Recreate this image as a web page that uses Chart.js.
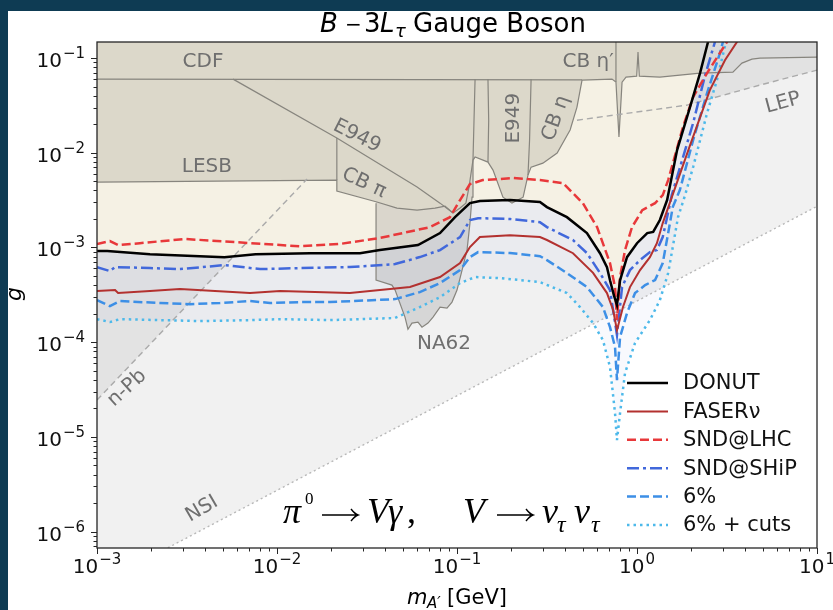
<!DOCTYPE html>
<html>
<head>
<meta charset="utf-8">
<title>B - 3L_tau Gauge Boson</title>
<script src="https://cdn.jsdelivr.net/npm/chart.js@4.4.1/dist/chart.umd.min.js"></script>
<style>
  html, body { margin: 0; padding: 0; background: #0e3b53; overflow: hidden; }
  canvas { display: block; }
</style>
</head>
<body>
<canvas id="chart" width="833" height="610"></canvas>
<script>
// B - 3L_tau gauge boson: reach in (m_A' [GeV], g)

// axes: decades that carry a 10^n label
const massDecades = [-3, -2, -1, 0, 1];
const couplingDecades = [-7, -6, -5, -4, -3, -2, -1];
const massRange = [1e-3, 10];
const couplingRange = [6.7e-7, 0.148];

// projected sensitivities
const donutMass = [1e-3, 1.14e-3, 1.97e-3, 5.1e-3, 7.6e-3, 1.53e-2, 2.89e-2, 3.73e-2, 6.07e-2, 8.05e-2, 9.75e-2, 0.118, 0.134, 0.197, 0.289, 0.316, 0.408, 0.527, 0.623, 0.681, 0.708, 0.745, 0.774, 0.805, 0.88, 1.0, 1.14, 1.23, 1.34, 1.47, 1.67, 1.97, 2.24, 2.48, 2.58];
const donutG = [9.2e-4, 9.2e-4, 8.5e-4, 7.9e-4, 8.5e-4, 8.7e-4, 8.7e-4, 9.4e-4, 1.06e-3, 1.42e-3, 2.09e-3, 2.94e-3, 3.09e-3, 3.17e-3, 3.02e-3, 2.67e-3, 2.09e-3, 1.42e-3, 8.7e-4, 6.2e-4, 4.5e-4, 3.1e-4, 2.46e-4, 4.5e-4, 7.9e-4, 1.11e-3, 1.42e-3, 1.46e-3, 1.95e-3, 3.17e-3, 1.07e-2, 3.04e-2, 6.95e-2, 0.148, 0.2];

const faserMass = [1e-3, 1.26e-3, 1.31e-3, 1.97e-3, 2.89e-3, 7.08e-3, 1.04e-2, 2.54e-2, 4.83e-2, 5.48e-2, 8.05e-2, 0.104, 0.118, 0.134, 0.197, 0.289, 0.316, 0.441, 0.57, 0.681, 0.736, 0.774, 0.836, 0.914, 1.04, 1.18, 1.29, 1.39, 1.52, 1.97, 2.54, 3.08, 3.59, 3.83];
const faserG = [3.47e-4, 3.55e-4, 3.3e-4, 3.47e-4, 3.64e-4, 3.3e-4, 3.47e-4, 3.3e-4, 3.73e-4, 3.82e-4, 4.87e-4, 6.84e-4, 1.01e-3, 1.29e-3, 1.35e-3, 1.29e-3, 1.2e-3, 8.7e-4, 5.4e-4, 3.3e-4, 2.2e-4, 1.34e-4, 2.35e-4, 3.82e-4, 5.77e-4, 7.9e-4, 1.11e-3, 1.81e-3, 2.94e-3, 1.2e-2, 4.6e-2, 9.5e-2, 0.148, 0.2];

const sndLhcMass = [1e-3, 1.18e-3, 1.31e-3, 1.73e-3, 3.08e-3, 5.84e-3, 1.34e-2, 2.24e-2, 3.73e-2, 7.08e-2, 9.14e-2, 0.104, 0.118, 0.139, 0.205, 0.289, 0.388, 0.5, 0.6, 0.708, 0.755, 0.774, 0.805, 0.858, 0.938, 1.07, 1.26, 1.39, 1.49, 1.8, 2.05, 2.45, 3.16, 3.37];
const sndLhcG = [1.09e-3, 1.17e-3, 1.06e-3, 1.11e-3, 1.23e-3, 1.14e-3, 1.03e-3, 1.09e-3, 1.26e-3, 1.64e-3, 2.09e-3, 3.17e-3, 4.67e-3, 5.15e-3, 5.41e-3, 5.15e-3, 4.79e-3, 2.94e-3, 1.64e-3, 6.84e-4, 3.82e-4, 1.71e-4, 4.87e-4, 9.39e-4, 1.64e-3, 2.48e-3, 2.94e-3, 3.57e-3, 5.15e-3, 1.87e-2, 3.87e-2, 6.95e-2, 0.148, 0.2];

const sndShipMass = [1e-3, 1.18e-3, 1.26e-3, 1.97e-3, 2.89e-3, 5.14e-3, 8.05e-3, 1.34e-2, 2.54e-2, 4.53e-2, 6.22e-2, 8.05e-2, 0.104, 0.118, 0.131, 0.197, 0.289, 0.316, 0.441, 0.527, 0.623, 0.708, 0.774, 0.826, 0.914, 1.04, 1.18, 1.29, 1.39, 1.47, 1.56, 2.05, 2.39, 2.71, 2.82];
const sndShipG = [6.21e-4, 5.63e-4, 6.21e-4, 6.06e-4, 5.91e-4, 6.52e-4, 5.91e-4, 6.06e-4, 6.21e-4, 6.68e-4, 7.92e-4, 9.39e-4, 1.29e-3, 1.95e-3, 2.04e-3, 2.0e-3, 1.85e-3, 1.64e-3, 1.2e-3, 8.73e-4, 5.37e-4, 3.55e-4, 1.19e-4, 3.82e-4, 5.77e-4, 7.36e-4, 8.94e-4, 9.39e-4, 1.29e-3, 2.09e-3, 3.57e-3, 2.06e-2, 6.6e-2, 0.148, 0.2];

const sixMass = [1e-3, 1.18e-3, 1.34e-3, 2.24e-3, 3.29e-3, 4.82e-3, 7.08e-3, 9.14e-3, 1.34e-2, 1.97e-2, 4.53e-2, 6.22e-2, 8.05e-2, 0.104, 0.118, 0.131, 0.197, 0.289, 0.316, 0.408, 0.527, 0.647, 0.708, 0.755, 0.774, 0.805, 0.88, 0.975, 1.11, 1.26, 1.39, 1.49, 1.58, 1.73, 2.05, 2.45, 2.89, 3.0, 3.12];
const sixG = [2.78e-4, 2.4e-4, 2.72e-4, 2.59e-4, 2.52e-4, 2.59e-4, 2.72e-4, 2.59e-4, 2.65e-4, 2.65e-4, 2.85e-4, 3.38e-4, 4.21e-4, 5.77e-4, 7.92e-4, 8.94e-4, 8.73e-4, 8.1e-4, 7.36e-4, 5.37e-4, 3.82e-4, 2.35e-4, 1.44e-4, 8.88e-5, 3.98e-5, 1.13e-4, 2.03e-4, 3.3e-4, 4.01e-4, 4.53e-4, 6.84e-4, 1.42e-3, 2.67e-3, 4.04e-3, 1.36e-2, 4.27e-2, 0.113, 0.148, 0.2];

const cutsMass = [1e-3, 1.18e-3, 1.34e-3, 3.74e-3, 7.08e-3, 1.04e-2, 1.97e-2, 4.53e-2, 6.22e-2, 8.05e-2, 0.104, 0.126, 0.173, 0.289, 0.408, 0.482, 0.57, 0.647, 0.708, 0.755, 0.774, 0.805, 0.858, 0.975, 1.18, 1.34, 1.49, 1.58, 1.69, 1.85, 2.05, 2.45, 2.78, 3.12, 3.24];
const cutsG = [1.75e-4, 1.63e-4, 1.75e-4, 1.67e-4, 1.71e-4, 1.75e-4, 1.71e-4, 1.8e-4, 2.35e-4, 2.99e-4, 4.21e-4, 4.87e-4, 4.75e-4, 4.31e-4, 3.3e-4, 2.35e-4, 1.59e-4, 1.05e-4, 5.46e-5, 1.78e-5, 9.24e-6, 1.78e-5, 4.72e-5, 9.79e-5, 1.71e-4, 2.78e-4, 5.37e-4, 1.01e-3, 2.09e-3, 3.57e-3, 7.06e-3, 2.62e-2, 5.86e-2, 0.148, 0.2];

// existing bounds: lower edge of CDF / LESB / E949 / CB regions
const boundsMass = [1e-3, 2.15e-2, 2.15e-2, 3.59e-2, 4.64e-2, 6.0e-2, 7.55e-2, 8.58e-2, 9.5e-2, 0.104, 0.112, 0.1166, 0.1227, 0.126, 0.1486, 0.1585, 0.18, 0.202, 0.233, 0.248, 0.258, 0.3, 0.36, 0.425, 0.464, 0.495, 0.726, 0.764, 0.794, 0.826, 0.869, 0.996, 1.013, 1.03, 1.34, 1.73, 2.24];
const boundsG = [4.91e-3, 5.15e-3, 3.94e-3, 3.02e-3, 2.61e-3, 2.48e-3, 2.61e-3, 2.74e-3, 2.31e-3, 2.61e-3, 2.94e-3, 4.35e-3, 8.38e-3, 9.02e-3, 7.98e-3, 6.56e-3, 3.4e-3, 2.94e-3, 3.4e-3, 5.82e-3, 7.06e-3, 7.78e-3, 9.93e-3, 1.74e-2, 3.04e-2, 5.86e-2, 6.0e-2, 5.58e-2, 1.47e-2, 5.58e-2, 6.31e-2, 6.46e-2, 0.116, 6.46e-2, 6.31e-2, 6.61e-2, 6.95e-2];
const topBandMass = [2.24, 3.41, 3.83, 4.35, 4.82, 10];
const topBandG = [6.95e-2, 7.11e-2, 8.86e-2, 9.76e-2, 0.1, 0.1026];
const cdfEdgeMass = [1e-3, 0.495];
const cdfEdgeG = [0.06, 0.059];
const e949DiagMass = [5.7e-3, 2.15e-2, 6.0e-2, 8.05e-2, 9.5e-2];
const e949DiagG = [0.06, 1.43e-2, 4.35e-3, 2.94e-3, 2.31e-3];
const cbPiEdgeMass = [2.15e-2, 2.15e-2];
const cbPiEdgeG = [1.43e-2, 5.15e-3];
const e949LeftMass = [0.1486, 0.15, 0.1486];
const e949LeftG = [0.06, 2.2e-2, 7.98e-3];
const e949RightMass = [0.258, 0.253, 0.248];
const e949RightG = [0.06, 1.36e-2, 5.82e-3];
const cbEtaPrimeMass = [0.764, 0.764];
const cbEtaPrimeG = [0.148, 5.58e-2];
const na62Mass = [3.55e-2, 3.55e-2, 4.35e-2, 4.53e-2, 5.14e-2, 5.34e-2, 5.62e-2, 6.07e-2, 6.39e-2, 6.9e-2, 7.36e-2, 8.05e-2, 8.8e-2, 9.38e-2, 0.1, 0.1067, 0.1137, 0.118, 0.1212, 0.1227, 0.126];
const na62G = [2.94e-3, 4.53e-4, 4.01e-4, 3.55e-4, 1.84e-4, 1.37e-4, 1.59e-4, 1.63e-4, 1.44e-4, 1.59e-4, 1.84e-4, 2.35e-4, 2.29e-4, 2.65e-4, 3.55e-4, 5.77e-4, 9.39e-4, 1.81e-3, 3.4e-3, 8.38e-3, 6.0e-2];
const lepMass = [0.464, 1.9, 2.64, 4.82, 10];
const lepG = [2.21e-2, 3.19e-2, 3.79e-2, 5.19e-2, 7.47e-2];
const nsiMass = [1e-3, 10];
const nsiG = [2.72e-7, 2.72e-3];
const nPbMass = [1e-3, 1.47e-2];
const nPbG = [2.45e-5, 5.3e-3];

const regionLabels = [
  { text: 'CDF', m: 3.88e-3, g: 9.07e-2, rot: 0 },
  { text: 'LESB', m: 4.08e-3, g: 7.06e-3, rot: 0 },
  { text: 'E949', m: 2.78e-2, g: 1.5e-2, rot: 27 },
  { text: 'CB π', m: 3.04e-2, g: 4.79e-3, rot: 25 },
  { text: 'E949', m: 0.2075, g: 2.32e-2, rot: -90 },
  { text: 'CB η', m: 0.355, g: 2.32e-2, rot: -70 },
  { text: 'CB η′', m: 0.535, g: 9.07e-2, rot: 0 },
  { text: 'LEP', m: 6.47, g: 3.35e-2, rot: -15 },
  { text: 'NA62', m: 8.47e-2, g: 9.55e-5, rot: 0 },
  { text: 'n-Pb', m: 1.47e-3, g: 3.27e-5, rot: -42 },
  { text: 'NSI', m: 3.83e-3, g: 1.73e-6, rot: -30 }
];

const sans = '"DejaVu Sans", sans-serif';
const serif = '"Liberation Serif", "DejaVu Serif", serif';
const pairs = (ms, gs) => ms.map((m, i) => ({ x: m, y: gs[i] }));

function curve(label, ms, gs, color, width, dash) {
  return { label, data: pairs(ms, gs), isCurve: true, showLine: true, borderColor: color,
           borderWidth: width, borderDash: dash, fill: false, order: 1 };
}
function edge(ms, gs, color, width, dash, order) {
  return { data: pairs(ms, gs), showLine: true, borderColor: color, borderWidth: width,
           borderDash: dash, fill: false, order };
}
function region(ms, gs, color, order) {
  return { data: pairs(ms, gs), showLine: true, borderColor: 'rgba(0,0,0,0)', borderWidth: 1,
           backgroundColor: color, fill: 'end', order };
}

function sciLabel(ctx, exp, x, y, align) {
  const base = '10';
  const sup = exp < 0 ? '\u2212' + (-exp) : String(exp);
  ctx.font = '20px ' + sans;
  const wb = ctx.measureText(base).width;
  ctx.font = '15px ' + sans;
  const ws = ctx.measureText(sup).width;
  const total = wb + ws + 1;
  const x0 = align === 'right' ? x - total : x - total / 2;
  ctx.textAlign = 'left';
  ctx.textBaseline = 'alphabetic';
  ctx.font = '20px ' + sans;
  ctx.fillText(base, x0, y);
  ctx.font = '15px ' + sans;
  ctx.fillText(sup, x0 + wb + 1, y - 9);
}

function arrow(ctx, x1, x2, y) {
  ctx.beginPath();
  ctx.moveTo(x1, y);
  ctx.lineTo(x2, y);
  ctx.moveTo(x2 - 7, y - 6);
  ctx.quadraticCurveTo(x2 - 3, y - 1, x2, y);
  ctx.quadraticCurveTo(x2 - 3, y + 1, x2 - 7, y + 6);
  ctx.stroke();
}

const decor = {
  id: 'decor',
  beforeDraw(chart) {
    const { ctx, width, height } = chart;
    ctx.save();
    ctx.fillStyle = '#ffffff';
    ctx.fillRect(0, 0, width, height);
    ctx.restore();
  },
  afterDatasetsDraw(chart) {
    const { ctx, chartArea: a, scales: { x, y } } = chart;
    ctx.save();
    ctx.beginPath();
    ctx.rect(a.left, a.top, a.right - a.left, a.bottom - a.top);
    ctx.clip();

    // region names
    ctx.fillStyle = '#6f6f6f';
    ctx.font = '20px ' + sans;
    ctx.textAlign = 'center';
    ctx.textBaseline = 'middle';
    regionLabels.forEach(l => {
      ctx.save();
      ctx.translate(x.getPixelForValue(l.m), y.getPixelForValue(l.g));
      ctx.rotate(l.rot * Math.PI / 180);
      ctx.fillText(l.text, 0, 0);
      ctx.restore();
    });

    // process: pi0 -> V gamma, V -> nu_tau nu_tau
    const fx = a.left, fy = a.bottom - 25;
    ctx.fillStyle = '#000';
    ctx.strokeStyle = '#000';
    ctx.lineWidth = 1.4;
    ctx.textAlign = 'left';
    ctx.textBaseline = 'alphabetic';
    const big = 'italic 36px ' + serif, small = 'italic 24px ' + serif;
    [['π', big, 186, 0], ['0', '17px ' + serif, 208, -19], ['V', big, 270, 0], ['γ', big, 291, 0],
     [',', '36px ' + serif, 310, 0], ['V', big, 366, 0], ['ν', big, 445, 0], ['τ', small, 460, 9],
     ['ν', big, 477, 0], ['τ', small, 494, 9]].forEach(([t, f, dx, dy]) => {
      ctx.font = f;
      ctx.fillText(t, fx + dx, fy + dy);
    });
    arrow(ctx, fx + 225, fx + 261, fy - 8);
    arrow(ctx, fx + 400, fx + 436, fy - 8);

    // legend
    const curves = chart.data.datasets.filter(d => d.isCurve);
    curves.forEach((d, i) => {
      const yy = a.top + 341 + i * 28.4;
      ctx.strokeStyle = d.borderColor;
      ctx.lineWidth = d.borderWidth;
      ctx.setLineDash(d.borderDash);
      ctx.beginPath();
      ctx.moveTo(a.left + 530, yy);
      ctx.lineTo(a.left + 571, yy);
      ctx.stroke();
      ctx.setLineDash([]);
      ctx.fillStyle = '#111';
      ctx.font = '21px ' + sans;
      ctx.textBaseline = 'middle';
      ctx.fillText(d.label, a.left + 586, yy + 1);
      ctx.textBaseline = 'alphabetic';
    });
    ctx.restore();
  },
  afterDraw(chart) {
    const { ctx, chartArea: a, scales: { x, y }, width, height } = chart;
    ctx.save();
    ctx.strokeStyle = '#262626';
    ctx.lineWidth = 1.3;
    ctx.strokeRect(a.left, a.top, a.right - a.left, a.bottom - a.top);

    // tick marks, outward, log minors
    ctx.lineWidth = 1;
    ctx.beginPath();
    massDecades.forEach(d => {
      for (let k = 1; k <= 9; k++) {
        const v = k * Math.pow(10, d);
        if (v < massRange[0] * 0.999 || v > massRange[1] * 1.001) continue;
        const px = Math.round(x.getPixelForValue(v)) + 0.5;
        ctx.moveTo(px, a.bottom);
        ctx.lineTo(px, a.bottom + (k === 1 ? 6 : 3.5));
      }
    });
    couplingDecades.forEach(d => {
      for (let k = 1; k <= 9; k++) {
        const v = k * Math.pow(10, d);
        if (v < couplingRange[0] || v > couplingRange[1]) continue;
        const py = Math.round(y.getPixelForValue(v)) + 0.5;
        ctx.moveTo(a.left, py);
        ctx.lineTo(a.left - (k === 1 ? 6 : 3.5), py);
      }
    });
    ctx.stroke();

    ctx.fillStyle = '#111';
    massDecades.forEach(d => sciLabel(ctx, d, x.getPixelForValue(Math.pow(10, d)), a.bottom + 25, 'center'));
    couplingDecades.forEach(d => {
      const v = Math.pow(10, d);
      if (v < couplingRange[0] || v > couplingRange[1]) return;
      sciLabel(ctx, d, a.left - 12, y.getPixelForValue(v) + 9, 'right');
    });

    // title  B - 3L_tau Gauge Boson
    ctx.textAlign = 'left';
    ctx.textBaseline = 'alphabetic';
    ctx.fillStyle = '#000';
    const tb = 32;
    [['B', 'italic 26px ', 320, tb], ['\u2212', '20px ', 345, tb - 1], ['3', '26px ', 364, tb],
     ['L', 'italic 26px ', 380, tb], ['τ', 'italic 18px ', 395, tb + 5],
     ['Gauge Boson', '26px ', 413, tb]].forEach(([t, f, px, py]) => {
      ctx.font = f + sans;
      ctx.fillText(t, px, py);
    });

    // x label  m_A' [GeV]
    ctx.font = 'italic 21px ' + sans;
    ctx.fillText('m', 407, 604);
    ctx.font = 'italic 15px ' + sans;
    ctx.fillText('A′', 427, 608);
    ctx.font = '21px ' + sans;
    ctx.fillText('[GeV]', 447, 604);

    // y label  g
    ctx.save();
    ctx.translate(21, 294);
    ctx.rotate(-Math.PI / 2);
    ctx.textAlign = 'center';
    ctx.font = 'italic 22px ' + sans;
    ctx.fillText('g', 0, 0);
    ctx.restore();

    // dark frame around the figure
    ctx.fillStyle = '#0e3b53';
    ctx.fillRect(0, 0, width, 11);
    ctx.fillRect(0, 0, 8, height);
    ctx.restore();
  }
};

new Chart(document.getElementById('chart'), {
  type: 'scatter',
  data: {
    datasets: [
      curve('DONUT', donutMass, donutG, '#000000', 2.5, []),
      curve('FASERν', faserMass, faserG, '#b3312f', 2, []),
      curve('SND@LHC', sndLhcMass, sndLhcG, '#e8383a', 2.5, [9, 4]),
      curve('SND@SHiP', sndShipMass, sndShipG, '#4168db', 2.5, [12, 4, 3, 4]),
      curve('6%', sixMass, sixG, '#3d8fe6', 2.5, [9, 4]),
      curve('6% + cuts', cutsMass, cutsG, '#4db9ea', 2.5, [2.5, 4]),

      edge(nsiMass, nsiG, '#b8b8b8', 1.4, [2, 3], 10),
      edge(lepMass, lepG, '#aaaaaa', 1.4, [6, 4], 10),
      edge(nPbMass, nPbG, '#aaaaaa', 1.4, [6, 4], 10),

      edge(boundsMass, boundsG, '#87857e', 1.2, [], 11),
      edge(topBandMass, topBandG, '#87857e', 1.2, [], 11),
      edge(na62Mass, na62G, '#87857e', 1.2, [], 11),
      edge(cdfEdgeMass, cdfEdgeG, '#87857e', 1.2, [], 11),
      edge(e949DiagMass, e949DiagG, '#87857e', 1.2, [], 11),
      edge(cbPiEdgeMass, cbPiEdgeG, '#87857e', 1.2, [], 11),
      edge(e949LeftMass, e949LeftG, '#87857e', 1.2, [], 11),
      edge(e949RightMass, e949RightG, '#87857e', 1.2, [], 11),
      edge(cbEtaPrimeMass, cbEtaPrimeG, '#87857e', 1.2, [], 11),

      region(boundsMass, boundsG, '#dcd8ca', 20),
      region(topBandMass, topBandG, '#d9d9d9', 21),
      region(na62Mass, na62G, 'rgba(110,110,110,0.2)', 22),
      region(donutMass, donutG, '#f5f1e4', 23),
      region(cutsMass, cutsG, 'rgba(90,110,220,0.045)', 24),
      region(nPbMass, nPbG, 'rgba(0,0,0,0.055)', 25),
      region(lepMass, lepG, 'rgba(0,0,0,0.06)', 26),
      region(nsiMass, nsiG, '#f1f1f1', 27)
    ]
  },
  options: {
    responsive: false,
    animation: false,
    devicePixelRatio: 1,
    events: [],
    layout: { padding: { left: 97, top: 42, right: 16, bottom: 62 } },
    elements: {
      point: { radius: 0, hoverRadius: 0 },
      line: { tension: 0, borderCapStyle: 'butt' }
    },
    plugins: { legend: { display: false }, tooltip: { enabled: false } },
    scales: {
      x: { type: 'logarithmic', min: massRange[0], max: massRange[1], display: false },
      y: { type: 'logarithmic', min: couplingRange[0], max: couplingRange[1], display: false }
    }
  },
  plugins: [decor]
});
</script>
</body>
</html>
